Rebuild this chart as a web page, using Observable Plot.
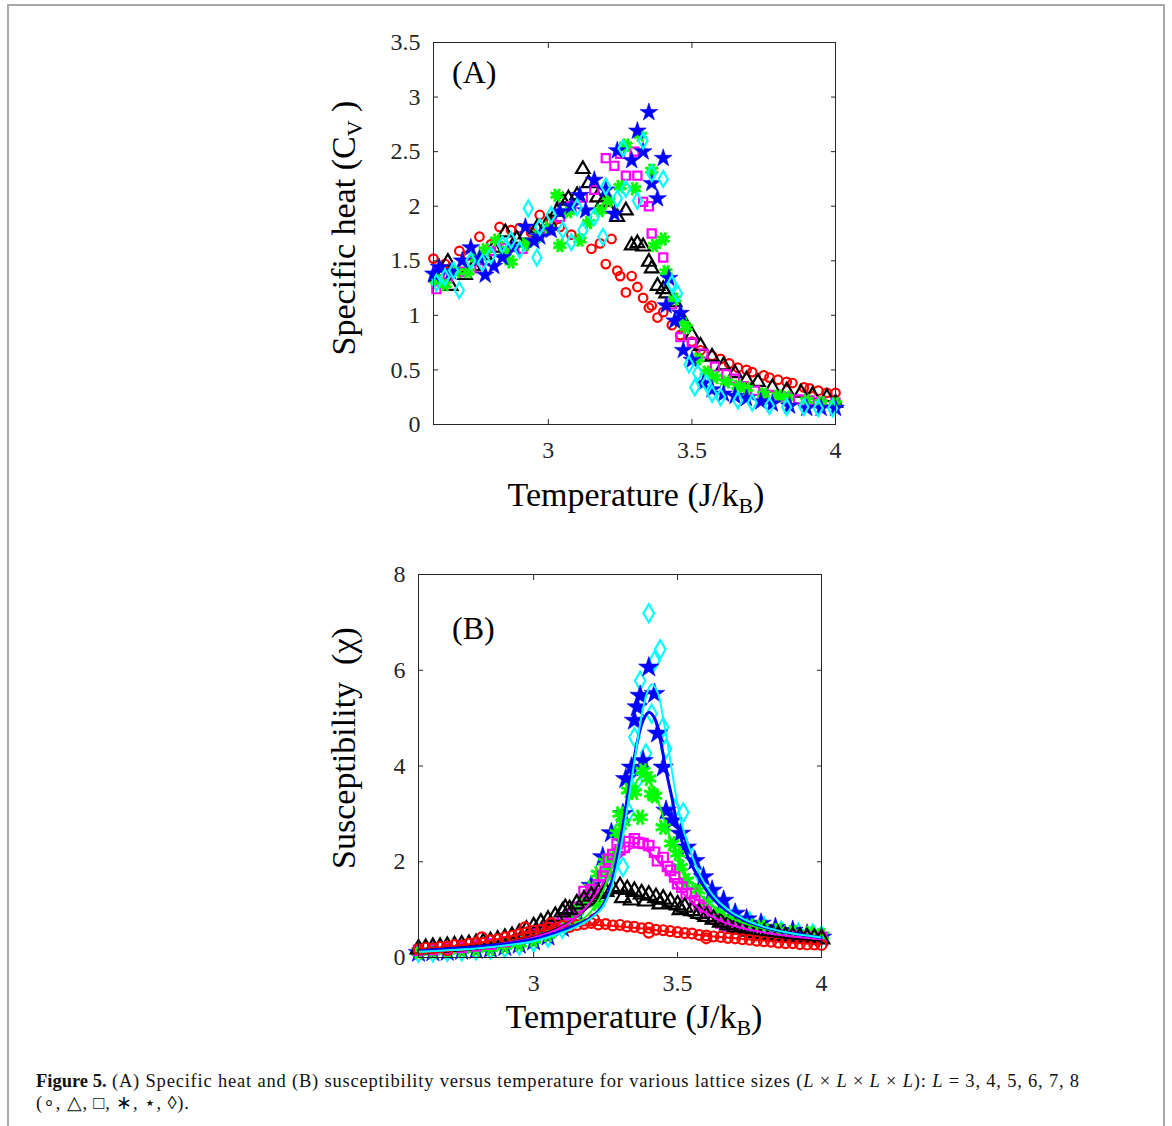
<!DOCTYPE html>
<html>
<head>
<meta charset="utf-8">
<script src="https://cdn.jsdelivr.net/npm/d3@7"></script>
<script src="https://cdn.jsdelivr.net/npm/@observablehq/plot@0.6"></script>
<style>
  body { margin: 0; background: #fff; }
  #page { position: relative; width: 1172px; height: 1126px; overflow: hidden; font-family: "Liberation Serif", "Times New Roman", serif; background: #fff; }
  #border { position: absolute; left: 7px; top: 4px; width: 1154px; height: 1140px; border: 2px solid #a8a8a8; border-bottom: none; z-index: 5; pointer-events: none; }
  #panelA { position: absolute; left: 0; top: 0; }
  #panelB { position: absolute; left: 0; top: 530px; }
  #caption { position: absolute; left: 36px; top: 1070px; font-size: 18.5px; letter-spacing: 0.8px; line-height: 22px; color: #111; white-space: nowrap; }
  #caption i { font-style: italic; }
</style>
</head>
<body>
<div id="page">
  <div id="panelA"></div>
  <div id="panelB"></div>
  <div id="caption"><b style="letter-spacing:0">Figure 5.</b> (A) Specific heat and (B) susceptibility versus temperature for various lattice sizes (<i>L</i> × <i>L</i> × <i>L</i> × <i>L</i>): <i>L</i> = 3, 4, 5, 6, 7, 8<br>(∘, △, □, ∗, ⋆, ◊).</div>
  <div id="border"></div>
</div>
<script>
// ---------- tick labels ----------
const tempTicks = [3, 3.5, 4];
const cvTicks = [0, 0.5, 1, 1.5, 2, 2.5, 3, 3.5];
const chiTicks = [0, 2, 4, 6, 8];
const latticeSizes = [3, 4, 5, 6, 7, 8];

// ---------- (A) specific heat: [T, Cv] ----------
const cvL3 = [[2.60,1.52],[2.64,1.47],[2.69,1.59],[2.72,1.55],[2.76,1.72],[2.80,1.65],[2.83,1.81],[2.87,1.78],[2.90,1.80],[2.94,1.76],[2.97,1.92],[3.01,1.86],[3.04,1.81],[3.08,1.74],[3.11,1.70],[3.15,1.61],[3.18,1.66],[3.22,1.70],[3.20,1.47],[3.24,1.41],[3.25,1.36],[3.29,1.36],[3.27,1.21],[3.31,1.26],[3.33,1.16],[3.35,1.07],[3.36,1.09],[3.38,0.98],[3.40,1.03],[3.43,0.91],[3.46,0.82],[3.50,0.76],[3.53,0.68],[3.57,0.63],[3.60,0.60],[3.63,0.56],[3.66,0.52],[3.69,0.50],[3.71,0.48],[3.75,0.45],[3.77,0.43],[3.80,0.41],[3.83,0.39],[3.85,0.38],[3.89,0.34],[3.91,0.33],[3.94,0.31],[3.97,0.29],[4.00,0.29]];
const cvL4 = [[2.61,1.35],[2.65,1.49],[2.66,1.27],[2.71,1.37],[2.74,1.45],[2.78,1.55],[2.81,1.62],[2.85,1.76],[2.89,1.70],[2.92,1.74],[2.96,1.80],[3.00,1.86],[3.03,1.95],[3.05,2.05],[3.07,2.07],[3.10,2.10],[3.12,2.34],[3.14,2.21],[3.17,2.08],[3.19,2.04],[3.21,1.98],[3.24,1.90],[3.27,1.96],[3.29,1.64],[3.31,1.66],[3.33,1.63],[3.35,1.49],[3.36,1.43],[3.38,1.27],[3.40,1.24],[3.41,1.20],[3.44,1.12],[3.47,0.95],[3.50,0.82],[3.53,0.72],[3.57,0.62],[3.61,0.54],[3.65,0.47],[3.69,0.41],[3.73,0.39],[3.78,0.34],[3.83,0.31],[3.88,0.29],[3.92,0.27],[3.97,0.25],[4.00,0.20]];
const cvL5 = [[2.61,1.24],[2.65,1.35],[2.70,1.40],[2.76,1.43],[2.80,1.59],[2.85,1.62],[2.91,1.61],[2.95,1.70],[3.00,1.78],[3.04,1.90],[3.08,2.00],[3.12,2.08],[3.16,2.15],[3.20,2.44],[3.23,2.37],[3.25,2.48],[3.27,2.28],[3.30,2.50],[3.31,2.28],[3.33,2.04],[3.35,2.00],[3.36,1.75],[3.40,1.53],[3.43,1.10],[3.46,0.80],[3.50,0.75],[3.54,0.65],[3.58,0.53],[3.62,0.46],[3.65,0.42],[3.68,0.35],[3.72,0.31],[3.75,0.28],[3.78,0.27],[3.83,0.25],[3.87,0.23],[3.91,0.22],[3.95,0.21],[4.00,0.20]];
const cvL6 = [[2.61,1.32],[2.64,1.28],[2.68,1.40],[2.72,1.40],[2.75,1.52],[2.78,1.60],[2.82,1.69],[2.85,1.58],[2.87,1.49],[2.92,1.65],[2.96,1.72],[3.00,1.80],[3.03,2.10],[3.04,1.64],[3.07,1.95],[3.11,1.69],[3.14,1.85],[3.18,1.96],[3.21,2.05],[3.25,2.18],[3.27,2.56],[3.30,2.16],[3.32,2.65],[3.36,2.33],[3.37,1.64],[3.40,1.70],[3.41,1.40],[3.44,1.15],[3.46,0.95],[3.48,0.89],[3.52,0.60],[3.55,0.48],[3.58,0.43],[3.62,0.39],[3.66,0.35],[3.69,0.33],[3.75,0.28],[3.80,0.26],[3.83,0.25],[3.90,0.22],[3.95,0.20],[4.00,0.19]];
const cvL7 = [[2.60,1.38],[2.62,1.44],[2.66,1.40],[2.70,1.50],[2.73,1.62],[2.76,1.52],[2.78,1.37],[2.81,1.45],[2.84,1.53],[2.88,1.62],[2.92,1.81],[2.95,1.68],[2.97,1.72],[3.01,1.78],[3.04,1.95],[3.08,2.00],[3.11,2.10],[3.13,1.96],[3.16,2.24],[3.20,2.15],[3.23,1.93],[3.24,2.51],[3.29,2.42],[3.31,2.69],[3.33,2.50],[3.35,2.86],[3.36,2.21],[3.38,2.07],[3.40,2.44],[3.42,1.34],[3.41,1.09],[3.44,0.95],[3.46,1.02],[3.47,0.68],[3.50,0.59],[3.54,0.38],[3.57,0.32],[3.61,0.28],[3.65,0.26],[3.69,0.24],[3.74,0.21],[3.78,0.19],[3.84,0.17],[3.90,0.15],[3.95,0.15],[4.00,0.15]];
const cvL8 = [[2.61,1.30],[2.64,1.35],[2.67,1.41],[2.69,1.23],[2.73,1.50],[2.77,1.48],[2.80,1.55],[2.84,1.65],[2.87,1.69],[2.90,1.60],[2.93,1.98],[2.96,1.53],[2.97,1.81],[3.01,1.92],[3.05,1.78],[3.08,1.67],[3.10,1.99],[3.12,1.78],[3.16,1.90],[3.19,1.72],[3.20,2.18],[3.24,2.07],[3.26,2.53],[3.27,2.16],[3.31,2.05],[3.33,2.60],[3.36,2.30],[3.40,2.25],[3.43,1.29],[3.45,1.20],[3.49,0.55],[3.51,0.34],[3.52,0.47],[3.55,0.38],[3.57,0.28],[3.60,0.25],[3.66,0.22],[3.71,0.20],[3.77,0.17],[3.83,0.16],[3.89,0.16],[3.94,0.15],[3.99,0.15]];

// ---------- (B) susceptibility: [T, chi] ----------
const chiL3 = [[2.600,0.17],[2.625,0.20],[2.650,0.19],[2.675,0.22],[2.700,0.15],[2.700,0.23],[2.725,0.26],[2.750,0.25],[2.775,0.29],[2.800,0.31],[2.820,0.42],[2.825,0.30],[2.850,0.36],[2.875,0.38],[2.900,0.42],[2.925,0.45],[2.950,0.49],[2.970,0.63],[2.975,0.52],[3.000,0.56],[3.025,0.58],[3.050,0.62],[3.060,0.72],[3.075,0.60],[3.100,0.66],[3.125,0.64],[3.150,0.68],[3.175,0.70],[3.200,0.72],[3.210,0.80],[3.225,0.69],[3.250,0.70],[3.275,0.67],[3.300,0.68],[3.325,0.65],[3.350,0.64],[3.375,0.61],[3.400,0.62],[3.400,0.52],[3.425,0.58],[3.450,0.57],[3.475,0.55],[3.500,0.53],[3.525,0.51],[3.550,0.50],[3.575,0.47],[3.600,0.46],[3.600,0.40],[3.625,0.44],[3.650,0.43],[3.675,0.41],[3.700,0.40],[3.725,0.38],[3.750,0.37],[3.775,0.35],[3.800,0.34],[3.825,0.33],[3.850,0.31],[3.875,0.30],[3.900,0.30],[3.925,0.28],[3.950,0.27],[3.975,0.27],[4.000,0.26]];
const chiL4 = [[2.600,0.18],[2.625,0.19],[2.650,0.21],[2.675,0.21],[2.700,0.23],[2.725,0.24],[2.750,0.26],[2.775,0.27],[2.800,0.29],[2.825,0.31],[2.850,0.33],[2.875,0.36],[2.900,0.40],[2.925,0.44],[2.950,0.50],[2.975,0.57],[3.000,0.64],[3.025,0.72],[3.050,0.78],[3.075,0.86],[3.100,0.95],[3.110,1.02],[3.125,1.00],[3.150,1.12],[3.175,1.20],[3.200,1.28],[3.225,1.34],[3.250,1.38],[3.275,1.44],[3.300,1.48],[3.310,1.25],[3.325,1.42],[3.340,1.20],[3.350,1.38],[3.375,1.33],[3.390,1.18],[3.400,1.30],[3.425,1.25],[3.440,1.12],[3.450,1.22],[3.475,1.16],[3.500,1.10],[3.510,1.00],[3.525,1.05],[3.550,0.98],[3.575,0.92],[3.600,0.86],[3.625,0.80],[3.650,0.74],[3.675,0.68],[3.700,0.63],[3.725,0.59],[3.750,0.55],[3.775,0.52],[3.800,0.50],[3.825,0.48],[3.850,0.46],[3.875,0.44],[3.900,0.43],[3.925,0.42],[3.950,0.41],[3.975,0.40],[4.000,0.39]];
const chiL5 = [[2.600,0.15],[2.650,0.17],[2.700,0.19],[2.750,0.21],[2.800,0.24],[2.850,0.28],[2.900,0.33],[2.950,0.40],[3.000,0.50],[3.025,0.56],[3.050,0.63],[3.075,0.70],[3.100,0.78],[3.125,0.90],[3.150,1.05],[3.175,1.38],[3.190,1.30],[3.200,1.42],[3.225,1.52],[3.240,1.70],[3.250,1.80],[3.260,2.05],[3.275,2.15],[3.290,2.37],[3.300,2.25],[3.315,2.30],[3.330,2.42],[3.350,2.48],[3.365,2.40],[3.380,2.38],[3.400,2.34],[3.420,2.20],[3.430,2.02],[3.450,2.09],[3.465,1.90],[3.475,1.82],[3.490,1.68],[3.500,1.54],[3.515,1.47],[3.530,1.33],[3.550,1.34],[3.560,1.19],[3.575,1.10],[3.590,1.05],[3.600,0.95],[3.625,0.80],[3.650,0.72],[3.675,0.66],[3.700,0.62],[3.725,0.59],[3.750,0.56],[3.800,0.51],[3.850,0.47],[3.900,0.45],[3.950,0.43],[4.000,0.42]];
const chiL6 = [[2.600,0.12],[2.650,0.13],[2.700,0.14],[2.750,0.16],[2.800,0.18],[2.850,0.20],[2.900,0.24],[2.950,0.29],[3.000,0.37],[3.050,0.48],[3.100,0.66],[3.125,0.80],[3.150,0.98],[3.175,1.20],[3.200,1.45],[3.220,1.13],[3.225,1.75],[3.250,2.00],[3.260,1.75],[3.270,2.09],[3.290,2.60],[3.300,3.00],[3.310,2.82],[3.330,3.49],[3.350,3.45],[3.370,2.93],[3.380,3.90],[3.400,3.74],[3.410,3.42],[3.420,3.38],[3.450,2.72],[3.480,2.38],[3.500,2.17],[3.510,1.89],[3.530,1.61],[3.570,1.40],[3.600,1.13],[3.640,0.92],[3.670,0.80],[3.710,0.71],[3.750,0.66],[3.790,0.63],[3.850,0.56],[3.900,0.52],[3.960,0.50],[4.000,0.46]];
const chiL7 = [[2.600,0.10],[2.650,0.11],[2.700,0.12],[2.750,0.14],[2.800,0.16],[2.850,0.18],[2.900,0.22],[2.950,0.27],[3.000,0.34],[3.050,0.44],[3.100,0.62],[3.150,0.95],[3.200,1.50],[3.240,2.10],[3.270,2.60],[3.310,3.00],[3.320,3.73],[3.340,3.97],[3.350,4.95],[3.360,5.23],[3.370,5.47],[3.380,4.11],[3.400,6.06],[3.420,5.51],[3.430,4.68],[3.450,3.97],[3.460,3.07],[3.480,2.85],[3.510,2.59],[3.530,2.30],[3.560,2.02],[3.590,1.68],[3.620,1.40],[3.660,1.19],[3.700,0.92],[3.740,0.80],[3.790,0.71],[3.840,0.62],[3.900,0.56],[3.950,0.48],[4.000,0.42]];
const chiL8 = [[2.600,0.10],[2.650,0.11],[2.700,0.12],[2.750,0.13],[2.800,0.15],[2.850,0.17],[2.900,0.20],[2.950,0.25],[3.000,0.32],[3.050,0.42],[3.100,0.60],[3.150,0.90],[3.200,1.40],[3.250,1.70],[3.310,1.89],[3.330,3.03],[3.350,4.60],[3.360,3.70],[3.370,5.78],[3.390,4.26],[3.400,7.19],[3.410,5.09],[3.420,6.20],[3.440,6.44],[3.450,4.81],[3.460,4.36],[3.490,3.10],[3.520,3.03],[3.550,2.10],[3.580,1.70],[3.620,1.35],[3.660,1.10],[3.700,0.90],[3.750,0.75],[3.800,0.65],[3.860,0.56],[3.920,0.52],[3.970,0.50],[4.000,0.45]];

// ---------- (B) fitted curves: [T, chi] ----------
const fitL3 = [[2.60,0.17],[2.80,0.30],[2.95,0.48],[3.10,0.63],[3.22,0.68],[3.35,0.62],[3.50,0.52],[3.70,0.40],[4.00,0.27]];
const fitL4 = [[2.60,0.15],[2.70,0.19],[2.80,0.24],[2.90,0.31],[3.00,0.43],[3.08,0.60],[3.14,0.80],[3.19,1.05],[3.23,1.22],[3.27,1.33],[3.31,1.36],[3.35,1.32],[3.40,1.22],[3.46,1.08],[3.52,0.92],[3.58,0.78],[3.64,0.67],[3.70,0.58],[3.78,0.48],[3.86,0.42],[4.00,0.35]];
const fitL5 = [[2.60,0.12],[2.70,0.16],[2.80,0.22],[2.90,0.30],[3.00,0.42],[3.08,0.58],[3.14,0.80],[3.19,1.10],[3.23,1.45],[3.27,1.85],[3.31,2.15],[3.35,2.30],[3.38,2.28],[3.42,2.10],[3.46,1.80],[3.50,1.48],[3.55,1.15],[3.60,0.92],[3.66,0.74],[3.72,0.62],[3.80,0.52],[3.90,0.44],[4.00,0.38]];
const fitL6 = [[2.60,0.12],[2.70,0.16],[2.80,0.21],[2.90,0.28],[3.00,0.38],[3.08,0.52],[3.14,0.68],[3.19,0.90],[3.23,1.25],[3.27,1.85],[3.30,2.55],[3.33,3.25],[3.36,3.70],[3.38,3.80],[3.40,3.70],[3.43,3.30],[3.46,2.75],[3.50,2.10],[3.54,1.62],[3.58,1.30],[3.63,1.02],[3.68,0.84],[3.75,0.68],[3.85,0.54],[4.00,0.43]];
const fitL7 = [[2.60,0.14],[2.70,0.18],[2.80,0.22],[2.90,0.28],[3.00,0.38],[3.08,0.52],[3.14,0.66],[3.19,0.80],[3.24,1.08],[3.27,1.55],[3.30,2.40],[3.33,3.50],[3.36,4.50],[3.38,4.95],[3.40,5.12],[3.42,5.00],[3.44,4.55],[3.46,3.90],[3.48,3.35],[3.50,2.75],[3.53,2.18],[3.58,1.60],[3.62,1.25],[3.67,0.98],[3.73,0.78],[3.80,0.63],[3.90,0.50],[4.00,0.42]];
const fitL8 = [[2.60,0.12],[2.70,0.15],[2.80,0.19],[2.90,0.25],[3.00,0.34],[3.08,0.48],[3.14,0.62],[3.19,0.78],[3.24,1.05],[3.27,1.45],[3.30,2.20],[3.33,3.30],[3.36,4.50],[3.38,5.20],[3.40,5.62],[3.41,5.71],[3.43,5.55],[3.45,5.00],[3.47,4.30],[3.49,3.55],[3.51,2.90],[3.54,2.30],[3.58,1.70],[3.62,1.32],[3.67,1.02],[3.73,0.80],[3.80,0.64],[3.90,0.50],[4.00,0.42]];

// ---------- styling ----------
const asterisk8 = {
  draw(ctx, size) {
    const r = Math.sqrt(size / Math.PI);
    for (let i = 0; i < 4; i++) {
      const a = i * Math.PI / 4 + Math.PI / 8;
      const dx = r * Math.cos(a), dy = r * Math.sin(a);
      ctx.moveTo(-dx, -dy); ctx.lineTo(dx, dy);
    }
  }
};
const markerStyle = [
  { symbol: "circle",   color: "#ff0000", r: 4.3, filled: false, sw: 2.2 },
  { symbol: "triangle", color: "#000000", r: 5.0, filled: false, sw: 2.2 },
  { symbol: "square",   color: "#ff00ff", r: 4.6, filled: false, sw: 2.2 },
  { symbol: asterisk8,  color: "#00ff00", r: 7.0, filled: false, sw: 3 },
  { symbol: "star",     color: "#0000ff", r: 5.6, filled: true,  sw: 0.6 },
  { symbol: "diamond",  color: "#00ffff", r: 4.8, filled: false, sw: 2.2 }
];
const fitWidth = [2, 2, 2, 2, 3, 2];

const FONT = "Liberation Serif, Times New Roman, serif";

function dots(data, i, scale = 1) {
  const s = markerStyle[i];
  return Plot.dot(data, {
    x: d => d[0], y: d => d[1], symbol: s.symbol, r: s.r * scale,
    stroke: s.color, fill: s.filled ? s.color : "none", strokeWidth: s.sw
  });
}

function axes(yTicks) {
  return [
    Plot.frame({ stroke: "#262626", strokeWidth: 1 }),
    Plot.axisX(tempTicks, { anchor: "bottom", tickSize: -5, tickPadding: 21, tickFormat: d => String(d), label: null }),
    Plot.axisX(tempTicks, { anchor: "top", tickSize: -5, tickFormat: () => "", label: null }),
    Plot.axisY(yTicks, { anchor: "left", tickSize: -5, tickPadding: 18, tickFormat: d => String(d), label: null }),
    Plot.axisY(yTicks, { anchor: "right", tickSize: -5, tickFormat: () => "", label: null })
  ];
}

const commonStyle = { fontFamily: FONT, fontSize: "24px", color: "#262626", background: "transparent", overflow: "visible" };

// ---------- panel A ----------
const cvSeries = [cvL3, cvL4, cvL5, cvL6, cvL7, cvL8];
const plotA = Plot.plot({
  width: 1172, height: 530,
  marginLeft: 433, marginRight: 337, marginTop: 42, marginBottom: 106,
  x: { domain: [2.6, 4] },
  y: { domain: [0, 3.5] },
  style: commonStyle,
  marks: [
    ...cvSeries.map((d, i) => dots(d, i)),
    ...axes(cvTicks)
  ]
});
document.getElementById("panelA").appendChild(plotA);

// ---------- panel B ----------
const chiSeries = [chiL3, chiL4, chiL5, chiL6, chiL7, chiL8];
const fitSeries = [fitL3, fitL4, fitL5, fitL6, fitL7, fitL8];
const orderB = [5, 4, 3, 2, 1, 0];
const plotB = Plot.plot({
  width: 1172, height: 540,
  marginLeft: 418, marginRight: 351, marginTop: 44, marginBottom: 113,
  x: { domain: [2.6, 4] },
  y: { domain: [0, 8] },
  style: commonStyle,
  marks: [
    ...orderB.map(i => dots(chiSeries[i], i, 1.15)),
    ...[0, 1, 2, 3, 4, 5].map(i => Plot.line(fitSeries[i], {
      x: d => d[0], y: d => d[1], stroke: markerStyle[i].color,
      strokeWidth: fitWidth[i], curve: "catmull-rom"
    })),
    ...axes(chiTicks)
  ]
});
document.getElementById("panelB").appendChild(plotB);

// ---------- text labels with subscripts ----------
function label(svg, x, y, rotate, pieces, size, anchor) {
  const t = d3.select(svg).append("text")
    .attr("transform", `translate(${x},${y})` + (rotate ? ` rotate(${rotate})` : ""))
    .attr("text-anchor", anchor || "middle")
    .attr("font-family", FONT)
    .attr("font-size", size)
    .attr("fill", "#000");
  for (const p of pieces) {
    const s = t.append("tspan").text(p.text);
    if (p.dy) s.attr("dy", p.dy);
    if (p.size) s.attr("font-size", p.size);
  }
}
label(plotA, 636, 506, 0, [{ text: "Temperature (J/k" }, { text: "B", size: 22, dy: 7 }, { text: ")", dy: -7 }], 34);
label(plotA, 355, 228, -90, [{ text: "Specific heat (C" }, { text: "V", size: 22, dy: 7 }, { text: " )", dy: -7 }], 34);
label(plotA, 452, 83, 0, [{ text: "(A)" }], 32, "start");

label(plotB, 634, 498, 0, [{ text: "Temperature (J/k" }, { text: "B", size: 22, dy: 7 }, { text: ")", dy: -7 }], 34);
label(plotB, 355, 218, -90, [{ text: "Susceptibility  (χ)" }], 34);
label(plotB, 452, 109, 0, [{ text: "(B)" }], 32, "start");
</script>
</body>
</html>
